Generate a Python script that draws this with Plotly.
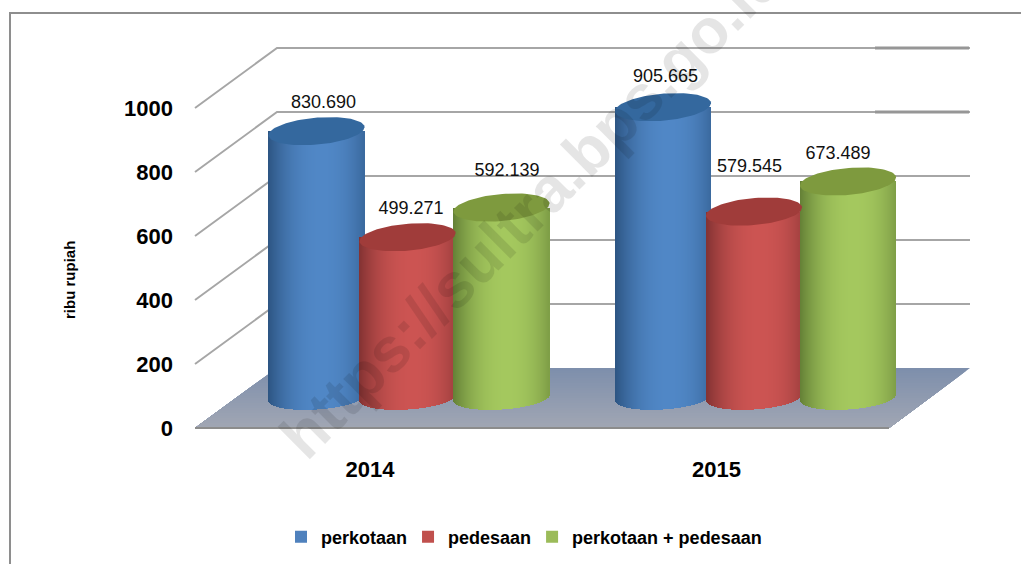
import numpy as np
import plotly.graph_objects as go

# ---- data ----
years = ["2014", "2015"]
series_names = ["perkotaan", "pedesaan", "perkotaan + pedesaan"]
perkotaan = [830.690, 905.665]
pedesaan = [499.271, 579.545]
gabungan = [592.139, 673.489]
y_ticks = [0, 200, 400, 600, 800, 1000]
y_title = "ribu rupiah"
watermark = "https://sultra.bps.go.id"

# ---- styles / geometry (pixels of the 1021x564 page) ----
W, H = 1021, 564
PX_L, PX_R, PX_T, PX_B = 185, 980, 40, 440
Y0_PX, PX_PER_UNIT = 428.0, 0.32
X0_PX, PX_PER_GROUP = 370.0, 346.5
DEPTH_X, DEPTH_Y = 82, 60
TOP_DEPTH_Y, BASE_DEPTH_Y = 31, 30.5
CENTER_SHIFT = 37.5
SERIES_SHIFT = [-91, 0, 94]
RX, RY_TOP, RY_BASE = 48, 13.5, 12
TILT_TOP, TILT_BASE = 4, 3
LABEL_NUDGE = [[(7, 28), (2.5, 30)], [(3.5, 28), (-4.5, 44)], [(5.5, 36), (-10, 27)]]
EDGE = [(44, 84, 130), (130, 50, 50), (100, 128, 54)]
MID = [(80, 135, 198), (204, 84, 82), (164, 200, 94)]
TOP = [(52, 104, 158), (160, 60, 58), (126, 154, 62)]
SOLID = ["#4F81BD", "#C0504D", "#9BBB59"]
GRID = "#A6A6A6"


def X(px):
    return (px - X0_PX) / PX_PER_GROUP


def dY(px):
    return px / PX_PER_UNIT


def Y(px):
    return (Y0_PX - px) / PX_PER_UNIT


def px_x(p):
    return (p - PX_L) / (PX_R - PX_L)


def px_y(p):
    return (PX_B - p) / (PX_B - PX_T)


all_values = [perkotaan, pedesaan, gabungan]
fig = go.Figure()


def shade(i, t):
    f = max(0.0, 1 - abs((t - 0.12) / 1.12) ** 2.2)
    return "rgb(%d,%d,%d)" % tuple(
        round(EDGE[i][k] + (MID[i][k] - EDGE[i][k]) * f) for k in range(3))


def center(i, g):
    return X0_PX + CENTER_SHIFT + g * PX_PER_GROUP + SERIES_SHIFT[i]


# cylinder sides: each series is a bar trace, one thin bar per pixel column
for i, (name, vals) in enumerate(zip(series_names, all_values)):
    xs, bases, heights, colors = [], [], [], []
    for g, v in enumerate(vals):
        cx = center(i, g)
        for off in np.arange(-RX + 0.5, RX, 1.0):
            t = off / RX
            low_px = Y0_PX - BASE_DEPTH_Y + RY_BASE * np.sqrt(1 - t * t) - TILT_BASE * t
            base_val = Y(low_px)
            top_val = v + dY(TOP_DEPTH_Y)
            xs.append(X(cx + off))
            bases.append(base_val)
            heights.append(top_val - base_val)
            colors.append(shade(i, t))
    fig.add_trace(go.Bar(x=xs, y=heights, base=bases, width=1.0 / PX_PER_GROUP,
                         marker=dict(color=colors, line=dict(width=0)),
                         showlegend=False, hoverinfo="skip"))

# top ellipses
theta = np.linspace(0, 2 * np.pi, 90)
for i, vals in enumerate(all_values):
    for g, v in enumerate(vals):
        cx = center(i, g)
        ex = [X(cx + RX * np.cos(a)) for a in theta]
        ey = [v + dY(TOP_DEPTH_Y) + dY(-RY_TOP * np.sin(a) + TILT_TOP * np.cos(a)) for a in theta]
        fig.add_trace(go.Scatter(
            x=ex, y=ey, mode="lines", fill="toself",
            fillcolor="rgb(%d,%d,%d)" % TOP[i], line=dict(width=0),
            showlegend=False, hoverinfo="skip"))

# value labels
for i, vals in enumerate(all_values):
    lx, ly, lt = [], [], []
    for g, v in enumerate(vals):
        nx, ny = LABEL_NUDGE[i][g]
        lx.append(X(center(i, g) + nx))
        ly.append(v + dY(TOP_DEPTH_Y) + dY(ny))
        lt.append(f"{v:.3f}")
    fig.add_trace(go.Scatter(x=lx, y=ly, text=lt, mode="text", textposition="middle center",
                             textfont=dict(family="Liberation Sans", size=18, color="#111111"),
                             showlegend=False, hoverinfo="skip"))

# legend entries
for i, name in enumerate(series_names):
    fig.add_trace(go.Scatter(x=[None], y=[None], mode="markers", name=name,
                             marker=dict(symbol="square", size=12, color=SOLID[i])))

shapes = []
# floor: overlapping bands for its vertical gradient
N = 24
left_front, left_back = 195, 195 + DEPTH_X
right_front, right_back = 889, 889 + 81
for k in range(N):
    a = k / N
    xa1 = left_back + (left_front - left_back) * a
    xa2 = right_back + (right_front - right_back) * a
    ya = Y0_PX - DEPTH_Y + DEPTH_Y * a
    col = "rgb(%d,%d,%d)" % (126 + 36 * a, 143 + 24 * a, 172 + 8 * a)
    shapes.append(dict(type="path", layer="below", xref="x", yref="y", line=dict(width=0),
                       fillcolor=col,
                       path=f"M{X(xa1)},{Y(ya)}L{X(xa2)},{Y(ya)}L{X(right_front)},{Y(Y0_PX)}L{X(left_front)},{Y(Y0_PX)}Z"))
# walls
for v in y_ticks:
    y1 = v + dY(DEPTH_Y)
    if v > 0:
        shapes.append(dict(type="path", layer="below", xref="x", yref="y",
                           line=dict(color=GRID, width=2),
                           path=f"M{X(195)},{v}L{X(277)},{y1}L{X(970)},{y1}"))
    if v in (800, 1000):
        shapes.append(dict(type="line", layer="below", xref="x", yref="y",
                           x0=X(875), x1=X(969), y0=y1, y1=y1,
                           line=dict(color="#969696", width=3)))
shapes.append(dict(type="line", layer="below", xref="x", yref="y", x0=X(195), x1=X(889),
                   y0=0, y1=0, line=dict(color="#8C8C8C", width=2)))
# outer frame
shapes.append(dict(type="path", xref="paper", yref="paper", line=dict(color="#8E8E8E", width=2),
                   path=f"M{px_x(10)},{px_y(H + 2)}L{px_x(10)},{px_y(13)}L{px_x(W + 2)},{px_y(13)}"))

fig.update_layout(
    width=W, height=H, autosize=False, barmode="overlay", bargap=0,
    margin=dict(l=PX_L, r=W - PX_R, t=PX_T, b=H - PX_B, pad=0),
    paper_bgcolor="white", plot_bgcolor="white",
    font=dict(family="Liberation Sans", color="#000000"),
    shapes=shapes,
    xaxis=dict(range=[X(PX_L), X(PX_R)], tickvals=[0, 1], ticktext=years, showgrid=False,
               zeroline=False, showline=False, ticks="", ticklabelstandoff=14,
               tickfont=dict(size=22, weight="bold", family="Liberation Sans")),
    yaxis=dict(range=[Y(PX_B), Y(PX_T)], tickvals=y_ticks, showgrid=False, zeroline=False,
               showline=False, ticks="", ticklabelstandoff=11,
               tickfont=dict(size=22, weight="bold", family="Liberation Sans")),
    legend=dict(orientation="h", xanchor="left", yanchor="middle", indentation=-4,
                xref="container", yref="container", x=285 / W, y=1 - 537 / H,
                itemwidth=30, bgcolor="rgba(0,0,0,0)",
                font=dict(size=18, weight="bold", family="Liberation Sans")),
    annotations=[
        dict(text=y_title, xref="paper", yref="paper", x=px_x(69), y=px_y(280),
             xanchor="center", yanchor="middle", showarrow=False, textangle=-90,
             font=dict(size=15, weight="bold", family="Liberation Sans", color="#000000")),
        dict(text=watermark, xref="paper", yref="paper", x=px_x(531), y=px_y(207),
             xanchor="center", yanchor="middle", showarrow=False, textangle=-45,
             font=dict(size=63, weight="bold", family="Liberation Sans",
                       color="rgba(0,0,0,0.10)"))],
)
fig.write_html("out.html", config=dict(displayModeBar=False),
               post_script="document.body.style.margin='0';")
